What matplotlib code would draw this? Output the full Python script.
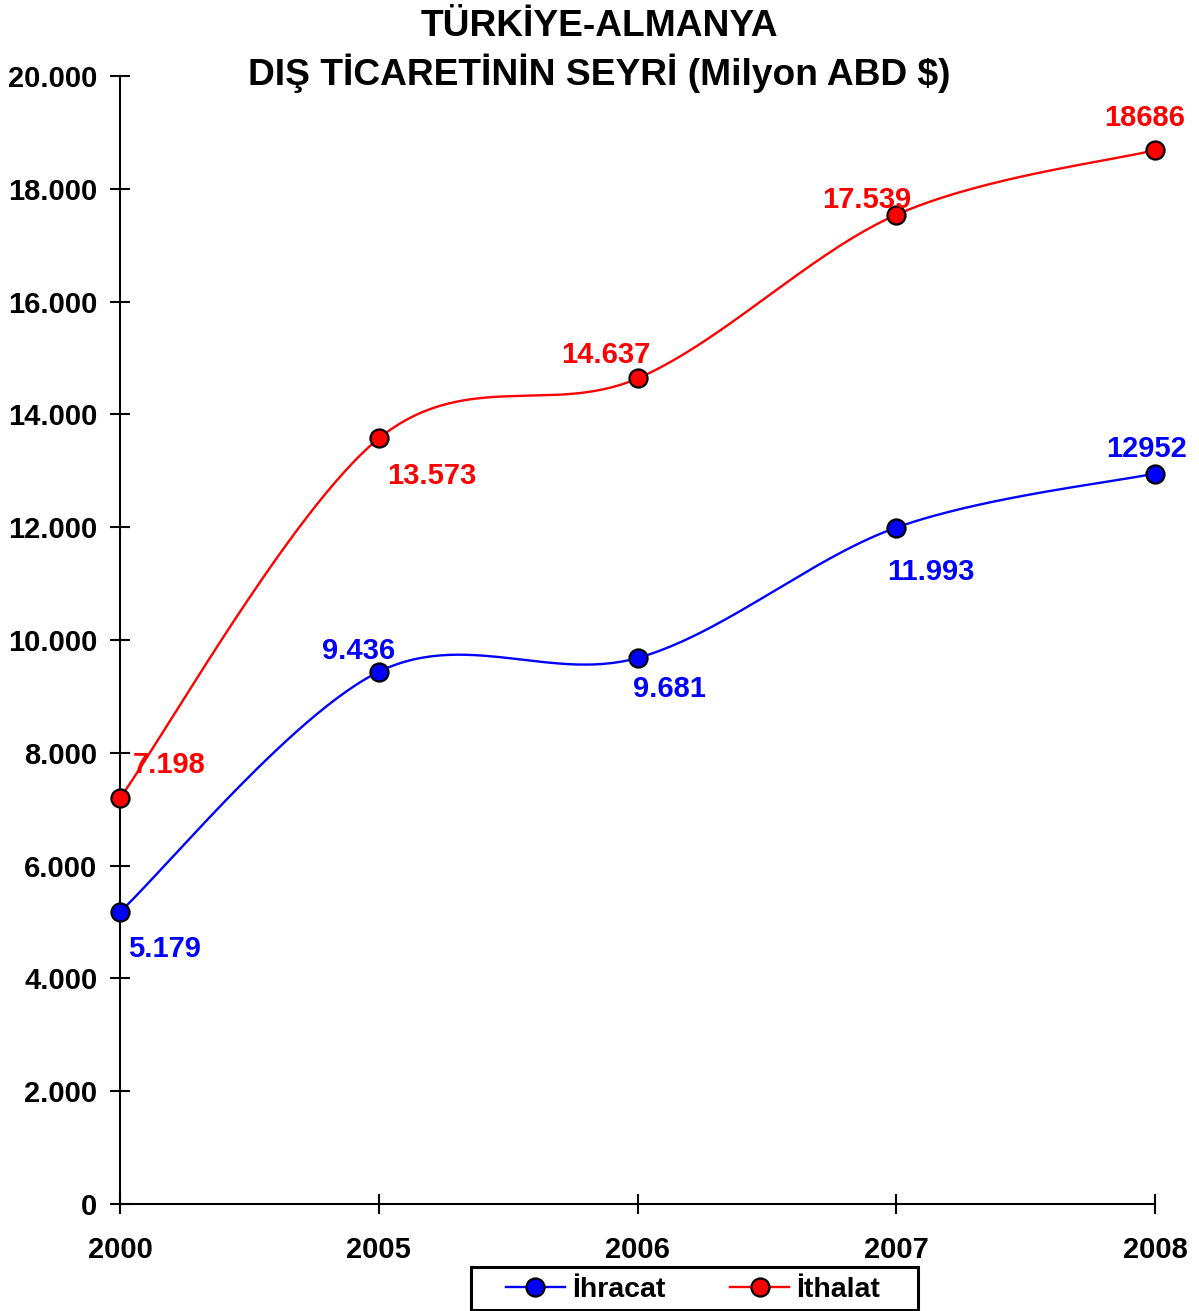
import matplotlib.pyplot as plt
from matplotlib.patches import Rectangle
import numpy as np

plt.rcParams['font.family'] = ['Liberation Sans', 'DejaVu Sans']
plt.rcParams['font.weight'] = 'bold'

# data
years = ['2000', '2005', '2006', '2007', '2008']
ihracat = [5179, 9436, 9681, 11993, 12952]
ithalat = [7198, 13573, 14637, 17539, 18686]
ihracat_labels = ['5.179', '9.436', '9.681', '11.993', '12952']
ithalat_labels = ['7.198', '13.573', '14.637', '17.539', '18686']
yticks = [0, 2000, 4000, 6000, 8000, 10000, 12000, 14000, 16000, 18000, 20000]

# label offsets in pixels (dx, dy) relative to the point, baseline anchored
ihracat_offsets = [(44, -45), (-20, 13), (32, -39), (35, -52), (-8, 17)]
ithalat_offsets = [(49, 25), (53, -46), (-32, 15), (-30, 7), (-10, 24)]

BLUE = '#0000FF'
RED = '#FF0000'

W, H = 1199, 1311
LW = 1.7
MS = 13
MEW = 1.6


# Excel-like smoothed line: cubic Bezier segments with Catmull-Rom tangents
def smooth(xs, ys, n=60):
    x = np.asarray(xs, float)
    y = np.asarray(ys, float)
    px = np.concatenate([[x[0]], x, [x[-1]]])
    py = np.concatenate([[y[0]], y, [y[-1]]])
    out_x, out_y = [], []
    t = np.linspace(0, 1, n)
    for i in range(len(x) - 1):
        p0 = np.array([x[i], y[i]])
        p3 = np.array([x[i + 1], y[i + 1]])
        c1 = p0 + (np.array([px[i + 2], py[i + 2]]) - np.array([px[i], py[i]])) / 6
        c2 = p3 - (np.array([px[i + 3], py[i + 3]]) - np.array([px[i + 1], py[i + 1]])) / 6
        b = ((1 - t) ** 3)[:, None] * p0 + (3 * (1 - t) ** 2 * t)[:, None] * c1 \
            + (3 * (1 - t) * t ** 2)[:, None] * c2 + (t ** 3)[:, None] * p3
        out_x.extend(b[:, 0])
        out_y.extend(b[:, 1])
    return out_x, out_y


fig = plt.figure(figsize=(W / 100, H / 100), dpi=100)
ax = fig.add_axes([120 / W, 1 - 1204 / H, 1035 / W, 1128 / H])

xs = np.arange(len(years))
for vals, labels, offs, color in [
    (ihracat, ihracat_labels, ihracat_offsets, BLUE),
    (ithalat, ithalat_labels, ithalat_offsets, RED),
]:
    sx, sy = smooth(xs, vals)
    ax.plot(sx, sy, color=color, lw=LW, zorder=2)
    ax.plot(xs, vals, 'o', color=color, markersize=MS, markeredgecolor='black',
            markeredgewidth=MEW, zorder=3, clip_on=False)
    for x, v, lab, (dx, dy) in zip(xs, vals, labels, offs):
        ax.annotate(lab, (x, v), xytext=(dx, dy), textcoords='offset pixels',
                    ha='center', va='baseline', color=color, fontsize=21,
                    fontweight='bold', zorder=4)

ax.set_xlim(0, len(years) - 1)
ax.set_ylim(0, 20000)
ax.set_xticks(xs)
ax.set_xticklabels(years)
ax.set_yticks(yticks)
ax.set_yticklabels([f'{v:,.0f}'.replace(',', '.') for v in yticks])

for s in ['top', 'right']:
    ax.spines[s].set_visible(False)
for s in ['left', 'bottom']:
    ax.spines[s].set_linewidth(1.5)

ax.tick_params(axis='both', direction='inout', length=14.4, width=1.5, labelsize=21)
ax.tick_params(axis='x', pad=16)
ax.tick_params(axis='y', pad=9)
for lab in ax.get_xticklabels() + ax.get_yticklabels():
    lab.set_fontweight('bold')

fig.text(0.5, 1 - 27 / H, 'TÜRKİYE-ALMANYA', ha='center', va='center',
         fontsize=26.7, fontweight='bold')
fig.text(0.5, 1 - 73 / H, 'DIŞ TİCARETİNİN SEYRİ (Milyon ABD $)', ha='center',
         va='center', fontsize=26.7, fontweight='bold')

# legend: frameless legend inside a hand-sized box
fig.add_artist(Rectangle((471 / W, 1 - 1310 / H), 447 / W, 43 / H,
                         transform=fig.transFigure, facecolor='white',
                         edgecolor='black', linewidth=2.2, zorder=5))
h1, = ax.plot([], [], '-o', color=BLUE, lw=LW, markersize=MS,
              markeredgecolor='black', markeredgewidth=MEW)
h2, = ax.plot([], [], '-o', color=RED, lw=LW, markersize=MS,
              markeredgecolor='black', markeredgewidth=MEW)
leg = fig.legend([h1, h2], ['İhracat', 'İthalat'], loc='center',
                 bbox_to_anchor=(693 / W, 1 - 1290 / H), ncol=2,
                 frameon=False, prop={'size': 20.5, 'weight': 'bold'},
                 handlelength=2.05, columnspacing=2.3, handletextpad=0.25,
                 borderpad=0.2, borderaxespad=0)
leg.set_zorder(6)

fig.savefig('out.png', dpi=100)
